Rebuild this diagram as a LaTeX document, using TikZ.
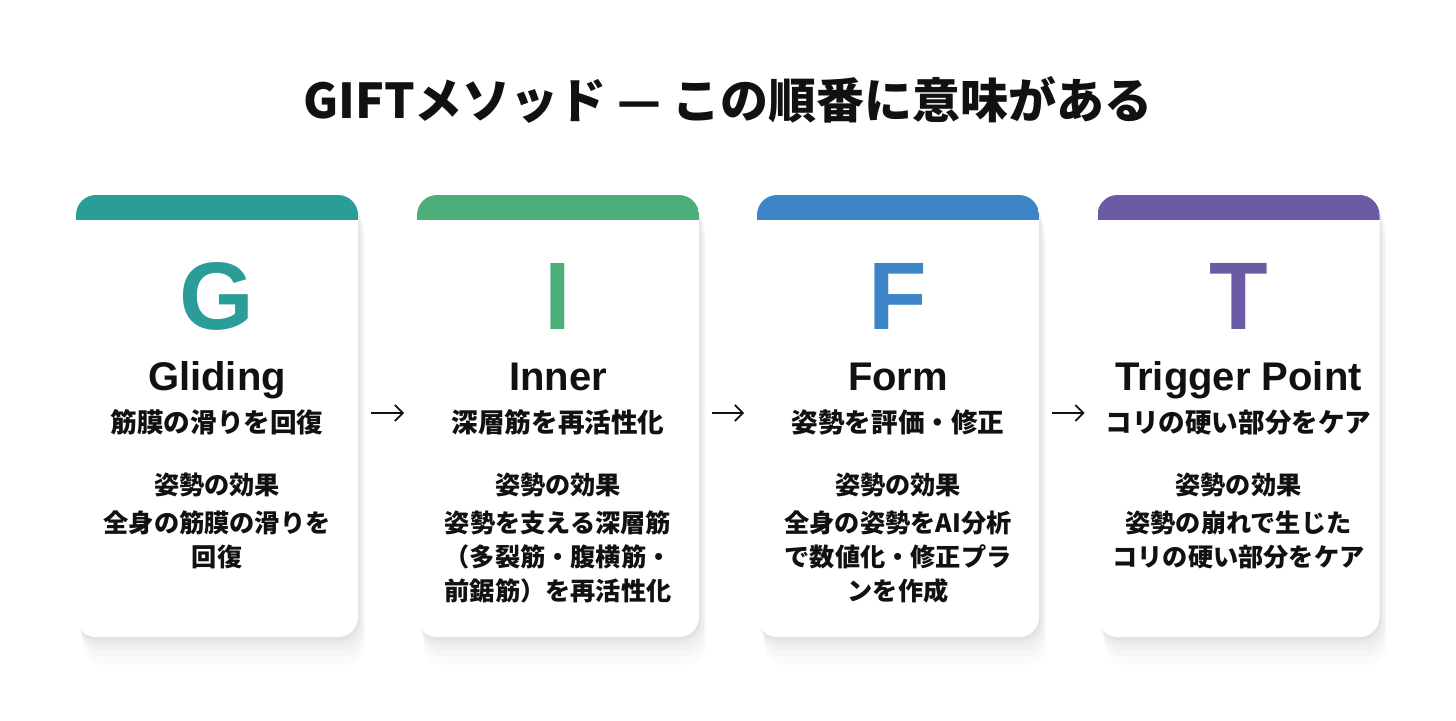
\documentclass[tikz,border=0pt]{standalone}
\usepackage{fontspec}
\setmainfont{Noto Sans CJK JP}
\newfontfamily\latinfont{Liberation Sans}
\usetikzlibrary{shadows,arrows.meta}

\definecolor{gcol}{RGB}{42,157,153}
\definecolor{icol}{RGB}{76,175,122}
\definecolor{fcol}{RGB}{61,133,198}
\definecolor{tcol}{RGB}{107,90,166}
\definecolor{ink}{RGB}{17,17,17}

\begin{document}
\begin{tikzpicture}[x=0.5pt, y=0.5pt,
    card/.style={fill=white, rounded corners=10pt, minimum width=141pt, minimum height=221pt, inner sep=0pt,
      drop shadow={shadow xshift=3.5pt, shadow yshift=-14pt, opacity=.03},
      drop shadow={shadow xshift=3pt, shadow yshift=-10pt, opacity=.04},
      drop shadow={shadow xshift=2.5pt, shadow yshift=-6.5pt, opacity=.05},
      drop shadow={shadow xshift=1.5pt, shadow yshift=-3.5pt, opacity=.06},
      drop shadow={shadow xshift=.8pt, shadow yshift=-1.5pt, opacity=.07},
      path picture={\fill[#1, sharp corners] (path picture bounding box.north west) rectangle ([yshift=-12.5pt]path picture bounding box.north east);}},
    cardletter/.style={font=\latinfont\fontsize{48}{48}\selectfont\bfseries, inner sep=0pt},
    cardname/.style={font=\latinfont\fontsize{20}{22}\selectfont\bfseries, text=ink, inner sep=0pt, anchor=base},
    cardsub/.style={font=\fontsize{13.3}{16}\selectfont\bfseries, text=ink, inner sep=0pt, anchor=base},
    cardbody/.style={font=\fontsize{12.6}{17}\selectfont\bfseries, text=ink, inner sep=0pt, anchor=north, align=center},
    nextarrow/.style={-{Straight Barb[length=4pt,width=8pt]}, line width=0.9pt, ink, shorten <=6.25pt, shorten >=6.25pt}]
  \useasboundingbox (0,0) rectangle (1456,720);

  % title
  \node[font=\fontsize{24}{26}\selectfont\bfseries, text=ink] (head) at (728,620) {GIFTメソッド — この順番に意味がある};

  % G
  \node[card=gcol] (g) at (217,304) {};
  \node[cardletter, text=gcol] (gL) at ([yshift=-51pt]g.north) {G};
  \node[cardname] (gN) at ([yshift=-98pt]g.north) {Gliding};
  \node[cardsub] (gS) at ([yshift=-119pt]g.north) {筋膜の滑りを回復};
  \node[cardbody] (gB) at ([yshift=-139pt]g.north) {姿勢の効果\\[2pt]全身の筋膜の滑りを\\回復};

  % I
  \node[card=icol] (i) at (558,304) {};
  \node[cardletter, text=icol] (iL) at ([yshift=-51pt]i.north) {I};
  \node[cardname] (iN) at ([yshift=-98pt]i.north) {Inner};
  \node[cardsub] (iS) at ([yshift=-119pt]i.north) {深層筋を再活性化};
  \node[cardbody] (iB) at ([yshift=-139pt]i.north) {姿勢の効果\\[2pt]姿勢を支える深層筋\\（多裂筋・腹横筋・\\前鋸筋）を再活性化};

  % F
  \node[card=fcol] (f) at (898,304) {};
  \node[cardletter, text=fcol] (fL) at ([yshift=-51pt]f.north) {F};
  \node[cardname] (fN) at ([yshift=-98pt]f.north) {Form};
  \node[cardsub] (fS) at ([yshift=-119pt]f.north) {姿勢を評価・修正};
  \node[cardbody] (fB) at ([yshift=-139pt]f.north) {姿勢の効果\\[2pt]全身の姿勢をAI分析\\で数値化・修正プラ\\ンを作成};

  % T
  \node[card=tcol] (t) at (1238.5,304) {};
  \node[cardletter, text=tcol] (tL) at ([yshift=-51pt]t.north) {T};
  \node[cardname] (tN) at ([yshift=-98pt]t.north) {Trigger Point};
  \node[cardsub] (tS) at ([yshift=-119pt]t.north) {コリの硬い部分をケア};
  \node[cardbody] (tB) at ([yshift=-139pt]t.north) {姿勢の効果\\[2pt]姿勢の崩れで生じた\\コリの硬い部分をケア};

  % order
  \draw[nextarrow] ([yshift=1.5pt]g.east) -- ([yshift=1.5pt]i.west);
  \draw[nextarrow] ([yshift=1.5pt]i.east) -- ([yshift=1.5pt]f.west);
  \draw[nextarrow] ([yshift=1.5pt]f.east) -- ([yshift=1.5pt]t.west);
\end{tikzpicture}
\end{document}
